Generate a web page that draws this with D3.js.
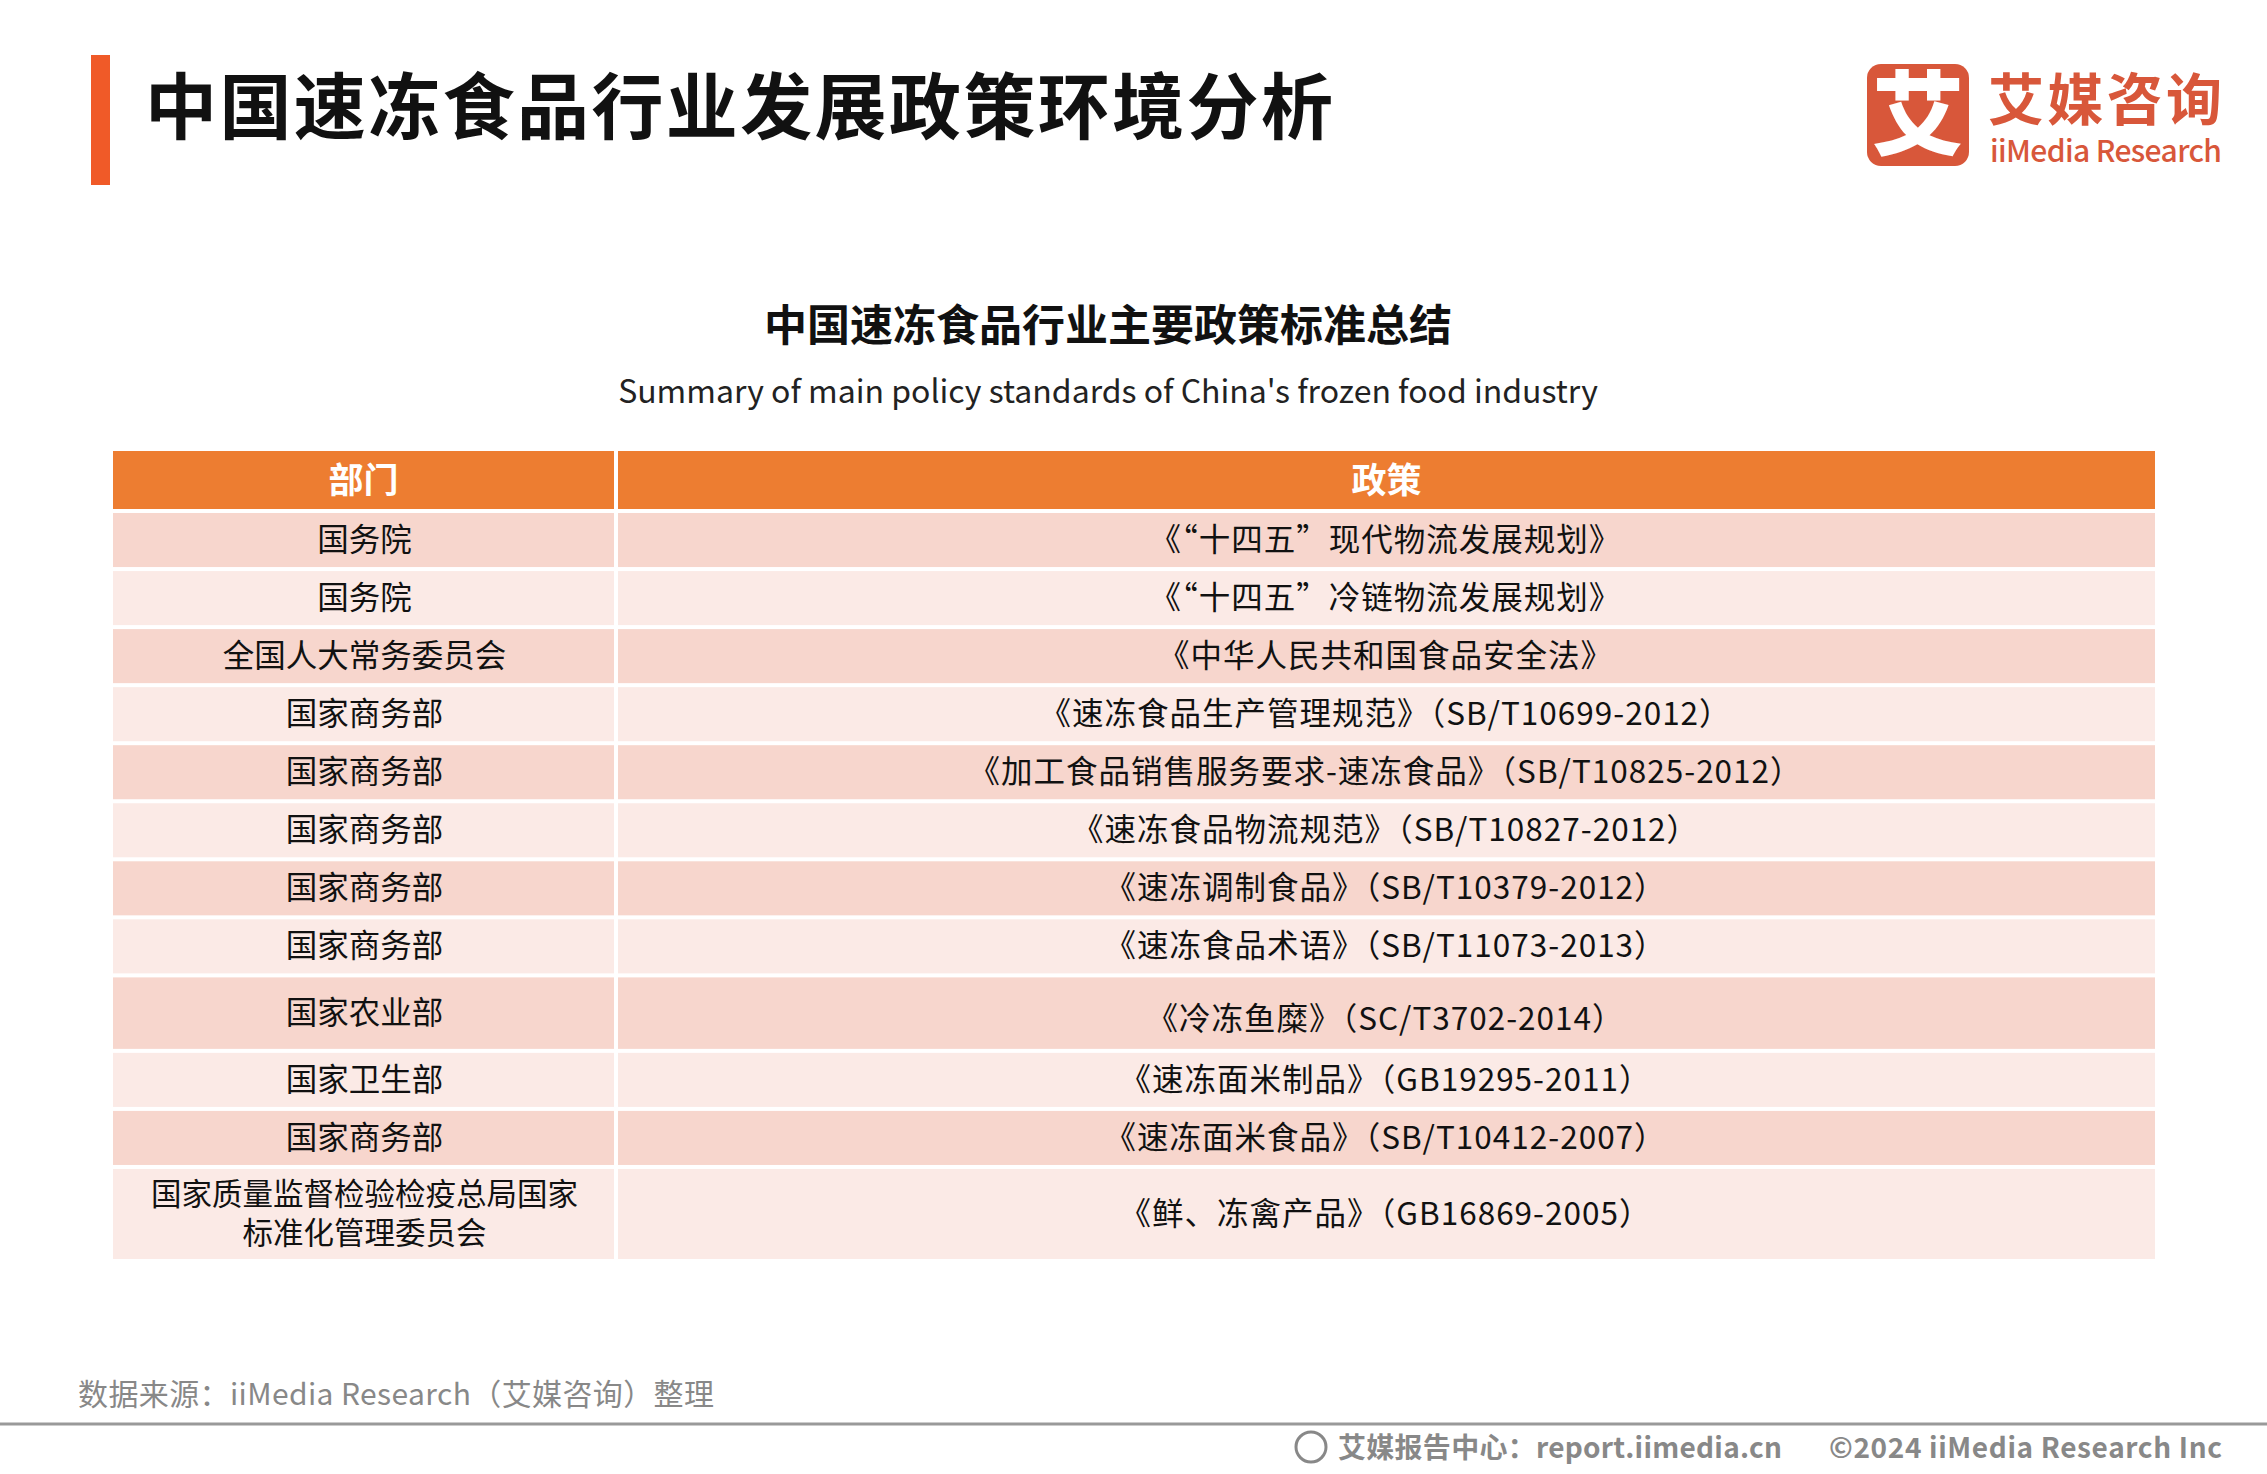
<!DOCTYPE html>
<html><head><meta charset="utf-8">
<script src="https://cdn.jsdelivr.net/npm/d3@7"></script>
<style>body{margin:0;background:#fff}svg{display:block}text{font-family:"Noto Sans CJK SC","Noto Sans",sans-serif}</style>
</head><body><svg id="c" width="2267" height="1474"></svg>
<script>
const headers = ["部门", "政策"];
const departments = ["国务院","国务院","全国人大常务委员会","国家商务部","国家商务部","国家商务部","国家商务部","国家商务部","国家农业部","国家卫生部","国家商务部","国家质量监督检验检疫总局国家\n标准化管理委员会"];
const policies = ["《“十四五”现代物流发展规划》","《“十四五”冷链物流发展规划》","《中华人民共和国食品安全法》","《速冻食品生产管理规范》（SB/T10699-2012）","《加工食品销售服务要求-速冻食品》（SB/T10825-2012）","《速冻食品物流规范》（SB/T10827-2012）","《速冻调制食品》（SB/T10379-2012）","《速冻食品术语》（SB/T11073-2013）","《冷冻鱼糜》（SC/T3702-2014）","《速冻面米制品》（GB19295-2011）","《速冻面米食品》（SB/T10412-2007）","《鲜、冻禽产品》（GB16869-2005）"];
const rowWeights = [1,1,1,1,1,1,1,1,1.3,1,1,1.62];

const svg = d3.select("#c");
svg.append("rect").attr("x",91).attr("y",55).attr("width",19).attr("height",130).attr("fill","#f05a28");
svg.append("text").attr("x",145).attr("y",133).attr("font-size",72).attr("font-weight",700).attr("fill","#111").attr("textLength",1188).text("中国速冻食品行业发展政策环境分析");
// logo
svg.append("rect").attr("x",1867).attr("y",64).attr("width",102).attr("height",102).attr("rx",14).attr("fill","#d8573a");
svg.append("text").attr("x",1918).attr("y",148).attr("text-anchor","middle").attr("font-size",92).attr("font-weight",900).attr("fill","#fff").text("艾");
svg.append("text").attr("x",1988).attr("y",120).attr("font-size",56).attr("font-weight",700).attr("fill","#d8573a").attr("textLength",234).text("艾媒咨询");
svg.append("text").attr("x",1990).attr("y",162).attr("font-size",30).attr("font-weight",500).attr("fill","#d8573a").attr("textLength",232).text("iiMedia Research");

svg.append("text").attr("x",1108).attr("y",341).attr("text-anchor","middle").attr("font-size",43).attr("font-weight",700).attr("fill","#111").text("中国速冻食品行业主要政策标准总结");
svg.append("text").attr("x",1108).attr("y",403).attr("text-anchor","middle").attr("font-size",32).attr("fill","#222").text("Summary of main policy standards of China's frozen food industry");

const x0=113, xs=616, x1=2155, gap=4;
const hTop=451, hBot=509, tTop=513, tBot=1263;
const cum=[0]; rowWeights.forEach(w=>cum.push(cum[cum.length-1]+w));
const y = d3.scaleLinear().domain([0,cum[cum.length-1]]).range([tTop,tBot]);
const cols=[[x0,xs-2],[xs+2,x1]];
cols.forEach((c,i)=>{
  svg.append("rect").attr("x",c[0]).attr("y",hTop).attr("width",c[1]-c[0]).attr("height",hBot-hTop).attr("fill","#ed7d31");
  svg.append("text").attr("x",(c[0]+c[1])/2).attr("y",(hTop+hBot)/2+13).attr("text-anchor","middle").attr("font-size",35).attr("font-weight",700).attr("fill","#fff").text(headers[i]);
});
departments.forEach((d,i)=>{
  const ya=y(cum[i]), yb=y(cum[i+1])-gap, fill = i%2===0?"#f7d6cd":"#fbeae6";
  cols.forEach(c=>svg.append("rect").attr("x",c[0]).attr("y",ya).attr("width",c[1]-c[0]).attr("height",yb-ya).attr("fill",fill));
  const cy=(ya+yb)/2;
  const lines=d.split("\n");
  const lh = 39;
  lines.forEach((l,k)=>{
    svg.append("text").attr("x",(x0+xs)/2).attr("y",cy+11+(k-(lines.length-1)/2)*lh).attr("text-anchor","middle").attr("font-size",lines.length>1?30.5:31.5).attr("fill","#111").text(l);
  });
  svg.append("text").attr("x",(xs+x1)/2).attr("y",cy+11+(i===8?6:0)).attr("text-anchor","middle").attr("font-size",31.5).attr("fill","#111").attr("letter-spacing",1).text(policies[i]);
});

svg.append("text").attr("x",78).attr("y",1405).attr("font-size",30).attr("fill","#888").attr("textLength",636).text("数据来源：iiMedia Research（艾媒咨询）整理");
svg.append("line").attr("x1",0).attr("x2",2267).attr("y1",1424).attr("y2",1424).attr("stroke","#999").attr("stroke-width",3);
svg.append("text").attr("x",1829).attr("y",1458).attr("font-size",28).attr("font-weight",700).attr("fill","#888").attr("textLength",393).text("©2024  iiMedia Research  Inc");
svg.append("text").attr("x",1338).attr("y",1458).attr("font-size",28).attr("font-weight",700).attr("fill","#888").attr("textLength",444).text("艾媒报告中心：report.iimedia.cn");
svg.append("circle").attr("cx",1311).attr("cy",1447).attr("r",15).attr("fill","none").attr("stroke","#888").attr("stroke-width",3);
</script></body></html>
